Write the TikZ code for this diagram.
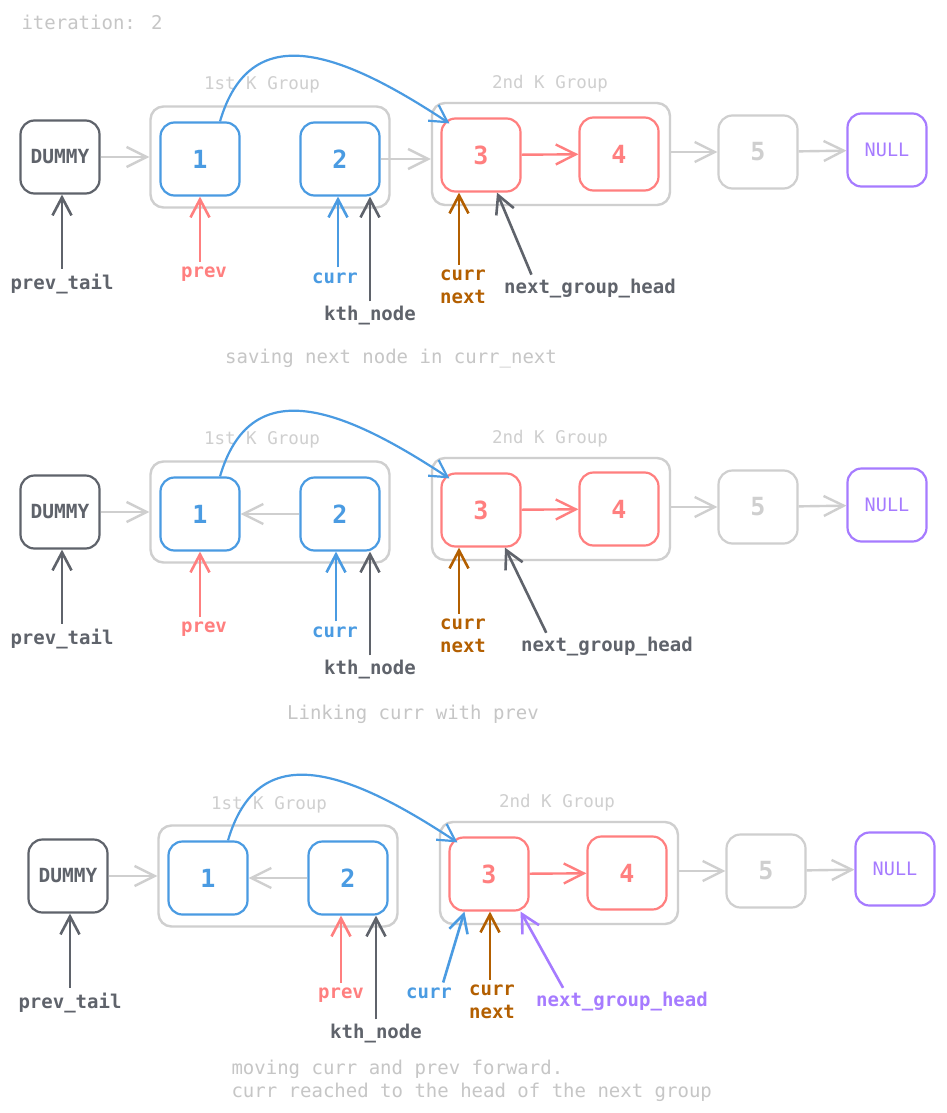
\documentclass[tikz,border=0pt]{standalone}
\usepackage{fontspec}
\setmainfont{DejaVu Sans Mono}
\usetikzlibrary{arrows.meta}
\usetikzlibrary{positioning}
\definecolor{excgray}{HTML}{CFCFCF}
\definecolor{captgray}{HTML}{C6C6C6}
\definecolor{inkgray}{HTML}{5F636B}
\definecolor{inkblue}{HTML}{4A9BE2}
\definecolor{inkred}{HTML}{FF7F7F}
\definecolor{inkbrown}{HTML}{B35F00}
\definecolor{inkviolet}{HTML}{A67BFF}

\begin{document}
\begin{tikzpicture}
[x=1pt, y=-1pt,
block/.style   ={rectangle, draw, line width=2.2pt, rounded corners=14pt, minimum width=79pt, minimum height=73pt, font=\fontsize{25}{29}\selectfont\bfseries},
word/.style    ={font=\fontsize{19.5}{24}\selectfont\bfseries},
group/.style   ={rectangle, draw=excgray, line width=2.4pt, rounded corners=13pt, minimum width=239pt, minimum height=101pt},
glabel/.style  ={text=excgray, font=\fontsize{17.5}{21}\selectfont},
caption/.style ={text=captgray, font=\fontsize{19}{23}\selectfont, align=left},
tag/.style     ={font=\fontsize{19}{23}\selectfont\bfseries, align=left, inner sep=1pt},
line/.style    ={draw=excgray, line width=2.4pt, -{Straight Barb[length=20pt, width=20pt]}},
ptr/.style     ={line width=2.6pt, shorten <=4pt, -{Straight Barb[length=18pt, width=19pt]}},
jump/.style    ={draw=inkblue, line width=2.2pt, -{Straight Barb[length=17pt, width=19pt]}}]

\fill[white] (0,0) rectangle (947,1113);
\useasboundingbox (0,0) rectangle (947,1113);

\node[caption, anchor=west] (iter) at (18,22) {iteration: 2};

% saving next node in curr_next
\node[group] (gA1) at (270,157) {};
\node[glabel] (lA1) at (262,85) {1st K Group};
\node[group, minimum width=238pt, minimum height=102pt] (gA2) at (551,154) {};
\node[glabel] (lA2) at (550,84) {2nd K Group};
\node[block, word, draw=inkgray, text=inkgray] (dA) at (60,157) {DUMMY};
\node[block, draw=inkblue, text=inkblue] (n1A) at (200,159) {1};
\node[block, draw=inkblue, text=inkblue] (n2A) at (340,159) {2};
\node[block, draw=inkred, text=inkred] (n3A) at (481,155) {3};
\node[block, draw=inkred, text=inkred] (n4A) at (619,154) {4};
\node[block, draw=excgray, text=excgray] (n5A) at (758,152) {5};
\node[block, word, draw=inkviolet, text=inkviolet, font=\fontsize{18.5}{22}\selectfont] (nullA) at (887,150) {NULL};

\path[line] (dA.east) -- (dA.east -| gA1.west);
\path[line] (n2A.east) -- (n2A.east -| gA2.west);
\path[line, draw=inkred] (n3A) -- (n4A);
\path[line] (n5A.west -| gA2.east) -- (n5A.west);
\path[line] (n5A) -- (nullA);
\path[jump] ([xshift=20pt]n1A.north) .. controls +(30,-102) and +(-112,-74) .. ([shift={(9,6)}]n3A.north west);

\node[tag, text=inkgray] (ptA) at (62,284) {prev\_tail};
\node[tag, text=inkred] (prA) at (204,274) {prev};
\node[tag, text=inkblue] (cuA) at (335,278) {curr};
\node[tag, text=inkgray] (kA) at (370,316) {kth\_node};
\node[tag, text=inkbrown] (cnA) at (463,287) {curr\\next};
\node[tag, text=inkgray, anchor=west] (ngA) at (503,289) {next\_group\_head};
\draw[ptr, inkgray] (ptA.north) -- (ptA.north |- dA.south);
\draw[ptr, inkred] (n1A.south |- prA.north) -- (n1A.south);
\draw[ptr, inkblue] ([xshift=-2pt]n2A.south |- cuA.north) -- ([xshift=-2pt]n2A.south);
\draw[ptr, inkgray] (kA.north) -- (kA.north |- n2A.south);
\draw[ptr, inkbrown] ([xshift=-4pt]cnA.north) -- ([xshift=-4pt]cnA.north |- n3A.south);
\draw[ptr, inkgray] ([xshift=30pt]ngA.north west) -- ([xshift=16pt]n3A.south);

\node[caption] (capA) at (391,359) {saving next node in curr\_next};

% Linking curr with prev
\begin{scope}[shift={(0,355)}]
\node[group] (gB1) at (270,157) {};
\node[glabel] (lB1) at (262,85) {1st K Group};
\node[group, minimum width=238pt, minimum height=102pt] (gB2) at (551,154) {};
\node[glabel] (lB2) at (550,84) {2nd K Group};
\node[block, word, draw=inkgray, text=inkgray] (dB) at (60,157) {DUMMY};
\node[block, draw=inkblue, text=inkblue] (n1B) at (200,159) {1};
\node[block, draw=inkblue, text=inkblue] (n2B) at (340,159) {2};
\node[block, draw=inkred, text=inkred] (n3B) at (481,155) {3};
\node[block, draw=inkred, text=inkred] (n4B) at (619,154) {4};
\node[block, draw=excgray, text=excgray] (n5B) at (758,152) {5};
\node[block, word, draw=inkviolet, text=inkviolet, font=\fontsize{18.5}{22}\selectfont] (nullB) at (887,150) {NULL};

\path[line] (dB.east) -- (dB.east -| gB1.west);
\path[line] (n2B) -- (n1B);
\path[line, draw=inkred] (n3B) -- (n4B);
\path[line] (n5B.west -| gB2.east) -- (n5B.west);
\path[line] (n5B) -- (nullB);
\path[jump] ([xshift=20pt]n1B.north) .. controls +(30,-102) and +(-112,-74) .. ([shift={(9,6)}]n3B.north west);

\node[tag, text=inkgray] (ptB) at (62,284) {prev\_tail};
\node[tag, text=inkred] (prB) at (204,274) {prev};
\node[tag, text=inkblue] (cuB) at (335,277) {curr};
\node[tag, text=inkgray] (kB) at (370,315) {kth\_node};
\node[tag, text=inkbrown] (cnB) at (463,281) {curr\\next};
\node[tag, text=inkgray, anchor=west] (ngB) at (520,292) {next\_group\_head};
\draw[ptr, inkgray] (ptB.north) -- (ptB.north |- dB.south);
\draw[ptr, inkred] (n1B.south |- prB.north) -- (n1B.south);
\draw[ptr, inkblue] ([xshift=-4pt]n2B.south |- cuB.north) -- ([xshift=-4pt]n2B.south);
\draw[ptr, inkgray] (kB.north) -- (kB.north |- n2B.south);
\draw[ptr, inkbrown] ([xshift=-4pt]cnB.north) -- ([xshift=-4pt]cnB.north |- n3B.south);
\draw[ptr, inkgray] ([xshift=28pt]ngB.north west) -- ([xshift=24pt]n3B.south);
\end{scope}

\node[caption] (capB) at (413,714) {Linking curr with prev};

% moving curr and prev forward
\begin{scope}[shift={(8,719)}]
\node[group] (gC1) at (270,157) {};
\node[glabel] (lC1) at (261,86) {1st K Group};
\node[group, minimum width=238pt, minimum height=102pt] (gC2) at (551,154) {};
\node[glabel] (lC2) at (549,84) {2nd K Group};
\node[block, word, draw=inkgray, text=inkgray] (dC) at (60,157) {DUMMY};
\node[block, draw=inkblue, text=inkblue] (n1C) at (200,159) {1};
\node[block, draw=inkblue, text=inkblue] (n2C) at (340,159) {2};
\node[block, draw=inkred, text=inkred] (n3C) at (481,155) {3};
\node[block, draw=inkred, text=inkred] (n4C) at (619,154) {4};
\node[block, draw=excgray, text=excgray] (n5C) at (758,152) {5};
\node[block, word, draw=inkviolet, text=inkviolet, font=\fontsize{18.5}{22}\selectfont] (nullC) at (887,150) {NULL};

\path[line] (dC.east) -- (dC.east -| gC1.west);
\path[line] (n2C) -- (n1C);
\path[line, draw=inkred] (n3C) -- (n4C);
\path[line] (n5C.west -| gC2.east) -- (n5C.west);
\path[line] (n5C) -- (nullC);
\path[jump] ([xshift=20pt]n1C.north) .. controls +(30,-102) and +(-112,-74) .. ([shift={(9,6)}]n3C.north west);

\node[tag, text=inkgray] (ptC) at (62,284) {prev\_tail};
\node[tag, text=inkred] (prC) at (333,276) {prev};
\node[tag, text=inkgray] (kC) at (368,315) {kth\_node};
\node[tag, text=inkblue] (cuC) at (421,274) {curr};
\node[tag, text=inkbrown] (cnC) at (484,283) {curr\\next};
\node[tag, text=inkviolet, anchor=west] (ngC) at (527,283) {next\_group\_head};
\draw[ptr, inkgray] (ptC.north) -- (ptC.north |- dC.south);
\draw[ptr, inkred] ([xshift=-7pt]n2C.south |- prC.north) -- ([xshift=-7pt]n2C.south);
\draw[ptr, inkgray] (kC.north) -- (kC.north |- n2C.south);
\draw[ptr, inkblue] ([xshift=13pt]cuC.north) -- ([xshift=16pt]n3C.south west);
\draw[ptr, inkbrown] ([xshift=-2pt]cnC.north) -- ([xshift=-2pt]cnC.north |- n3C.south);
\draw[ptr, inkviolet] ([xshift=30pt]ngC.north west) -- ([xshift=-9pt]n3C.south east);
\end{scope}

\node[caption, anchor=west] (capC) at (228,1080.5) {moving curr and prev forward.\\curr reached to the head of the next group};
\end{tikzpicture}
\end{document}
